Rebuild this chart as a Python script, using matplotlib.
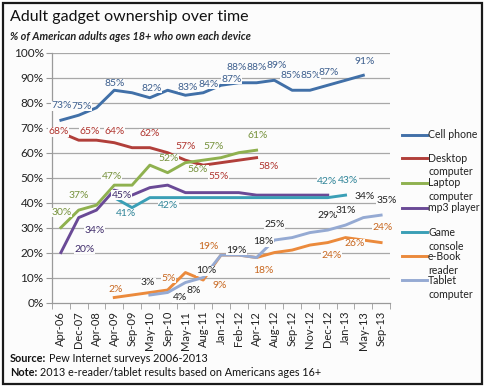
import numpy as np
import matplotlib
matplotlib.use("Agg")
import matplotlib.pyplot as plt
from matplotlib.lines import Line2D
from matplotlib.patches import Rectangle

nan = np.nan

categories = ["Apr-06", "Dec-07", "Apr-08", "Apr-09", "Sep-09", "May-10", "Sep-10",
              "May-11", "Aug-11", "Jan-12", "Feb-12", "Apr-12", "Aug-12", "Sep-12",
              "Nov-12", "Dec-12", "Jan-13", "May-13", "Sep-13"]

cell_phone = [73, 75, 78, 85, 84, 82, 85, 83, 84, 87, 88, 88, 89, 85, 85, 87, 89, 91, nan]
desktop    = [68, 65, 65, 64, 62, 62, 60, 57, 55, 56, 57, 58, nan, nan, nan, nan, nan, nan, nan]
laptop     = [30, 37, 39, 47, 47, 55, 52, 56, 57, 58, 60, 61, nan, nan, nan, nan, nan, nan, nan]
mp3_player = [20, 34, 37, 45, 43, 46, 47, 44, 44, 44, 44, 43, 43, 43, 43, 43, nan, nan, nan]
game_console = [nan, nan, nan, 42, 38, 42, 42, 42, 42, 42, 42, 42, 42, 42, 42, 42, 43, nan, nan]
ebook_reader = [nan, nan, nan, 2, 3, 4, 5, 12, 9, 19, 19, 18, 20, 21, 23, 24, 26, 25, 24]
tablet     = [nan, nan, nan, nan, nan, 3, 4, 8, 10, 19, 19, 18, 25, 26, 28, 29, 31, 34, 35]

series_names = ["Cell phone", "Desktop\ncomputer", "Laptop\ncomputer", "mp3 player",
                "Game\nconsole", "e-Book\nreader", "Tablet\ncomputer"]
series_values = [cell_phone, desktop, laptop, mp3_player, game_console, ebook_reader, tablet]
line_colors = ["#4170a8", "#b13f3a", "#8fb14f", "#6a4a96", "#3a9fb6", "#eb8a3c", "#95aad3"]
label_colors = ["#3d5f8e", "#b0352f", "#76923c", "#3f2c6a", "#2f8498", "#c8671f", "#222222"]

# data labels as shown in the picture: (series index, x position, y position, text)
data_labels = [
    (0, 0.06, 78.7, "73%"), (0, 1.16, 78.6, "75%"), (0, 3.03, 87.7, "85%"),
    (0, 5.1, 85.9, "82%"), (0, 7.15, 86.1, "83%"), (0, 8.28, 87.3, "84%"),
    (0, 9.6, 89.5, "87%"), (0, 9.9, 94.3, "88%"), (0, 11.02, 94.3, "88%"),
    (0, 12.15, 95.0, "89%"), (0, 12.9, 91.0, "85%"), (0, 14.05, 91.0, "85%"),
    (0, 15.05, 92.1, "87%"), (0, 17.08, 96.4, "91%"),
    (1, -0.15, 68.3, "68%"), (1, 1.63, 68.3, "65%"), (1, 3.03, 68.3, "64%"),
    (1, 5.0, 67.7, "62%"), (1, 7.0, 62.6, "57%"), (1, 8.84, 50.6, "55%"),
    (1, 11.65, 54.6, "58%"),
    (2, 0.04, 36.1, "30%"), (2, 1.03, 43.0, "37%"), (2, 2.85, 50.6, "47%"),
    (2, 6.03, 57.7, "52%"), (2, 7.71, 53.3, "56%"), (2, 8.56, 62.3, "57%"),
    (2, 11.08, 67.0, "61%"),
    (3, 1.35, 21.3, "20%"), (3, 1.91, 29.0, "34%"), (3, 3.41, 43.0, "45%"),
    (4, 3.65, 35.7, "41%"), (4, 6.03, 39.0, "42%"), (4, 14.98, 48.3, "42%"),
    (4, 16.15, 49.0, "43%"),
    (5, 3.09, 5.3, "2%"), (5, 6.03, 9.7, "5%"), (5, 8.28, 22.3, "19%"),
    (5, 8.93, 7.0, "9%"), (5, 11.37, 12.7, "18%"), (5, 15.2, 19.0, "24%"),
    (5, 16.5, 23.7, "26%"), (5, 18.1, 30.0, "24%"),
    (6, 4.9, 7.9, "3%"), (6, 6.69, 1.9, "4%"), (6, 7.47, 5.0, "8%"),
    (6, 8.18, 12.7, "10%"), (6, 9.87, 21.0, "19%"), (6, 11.37, 24.3, "18%"),
    (6, 12.02, 31.4, "25%"), (6, 15.02, 35.0, "29%"), (6, 16.01, 37.0, "31%"),
    (6, 17.08, 42.3, "34%"), (6, 18.3, 41.0, "35%"),
]

y_ticks = list(range(0, 101, 10))
y_tick_labels = [f"{v}%" for v in y_ticks]

title = "Adult gadget ownership over time"
subtitle = "% of American adults ages 18+ who own each device"
source_head, source_text = "Source:", "Pew Internet surveys 2006-2013"
note_head, note_text = "Note:", "2013 e-reader/tablet results based on Americans ages 16+"

plt.rcParams['font.family'] = ['Lato', 'DejaVu Sans']

W, H = 486, 389
fig = plt.figure(figsize=(W / 100, H / 100), dpi=100)
fig.patch.set_facecolor("white")


def fx(px):
    return px / W


def fy(py):
    return 1 - py / H


BG = "#fcfcfc"
fig.add_artist(Rectangle((fx(3), fy(384)), fx(482) - fx(3), fy(3) - fy(384),
                         transform=fig.transFigure, facecolor=BG,
                         edgecolor="#1a1a1a", linewidth=1.6, zorder=0))

ax = fig.add_axes([fx(52), fy(302.5), fx(390) - fx(52), fy(52.8) - fy(302.5)])
ax.set_facecolor("none")
x = np.arange(len(categories))

for v in y_ticks[1:]:
    ax.axhline(v, color="#a8a8a8", linewidth=0.9, zorder=1)

for vals, col in zip(series_values, line_colors):
    ax.plot(x, np.array(vals, dtype=float), color=col, linewidth=2.1,
            solid_joinstyle="round", zorder=3)

for si, lx, ly, txt in data_labels:
    ax.text(lx, ly, txt, color=label_colors[si], fontsize=7.5, ha="center", va="center",
            zorder=5, bbox=dict(facecolor=BG, edgecolor="none", pad=0.2))

ax.set_xlim(-0.5, len(categories) - 0.5)
ax.set_ylim(0, 100)
for s in ["top", "right"]:
    ax.spines[s].set_visible(False)
for s in ["left", "bottom"]:
    ax.spines[s].set_color("#9a9a9a")
    ax.spines[s].set_linewidth(0.9)

ax.set_yticks(y_ticks)
ax.set_yticklabels(y_tick_labels)
ax.tick_params(axis="y", direction="out", length=4, color="#9a9a9a", labelsize=8.5,
               labelcolor="#222222", pad=2)
ax.set_xticks(x)
ax.set_xticklabels(categories, rotation=90)
ax.set_xticks(np.arange(-0.5, len(categories), 1.0), minor=True)
ax.tick_params(axis="x", which="major", length=0, labelsize=8, labelcolor="#222222", pad=6)
ax.tick_params(axis="x", which="minor", direction="out", length=4, color="#9a9a9a")

# legend
leg_y = [135, 158, 183, 208, 232, 256, 280]
for name, col, yy in zip(series_names, line_colors, leg_y):
    fig.add_artist(Line2D([fx(402), fx(427)], [fy(yy), fy(yy)], color=col, linewidth=2.1,
                          transform=fig.transFigure))
    for k, ln in enumerate(name.split("\n")):
        fig.text(fx(428), fy(yy + 14 * k), ln, fontsize=7.6, color="#222222",
                 ha="left", va="center")

fig.text(fx(10), fy(17), title, fontsize=11.5, color="#111111", ha="left", va="center")
fig.text(fx(10), fy(36), subtitle, fontsize=7.8, color="#222222", style="italic",
         weight="bold", ha="left", va="center")

fig.canvas.draw()
r = fig.canvas.get_renderer()
for head, body, yy in [(source_head, source_text, 359), (note_head, note_text, 372)]:
    th = fig.text(fx(10), fy(yy), head, fontsize=7.8, weight="bold", color="#111111",
                  ha="left", va="center")
    bb = th.get_window_extent(r)
    fig.text(bb.x1 / W + fx(3), fy(yy), body, fontsize=7.8, color="#111111",
             ha="left", va="center")

fig.savefig("out.png", dpi=100, facecolor="white")
